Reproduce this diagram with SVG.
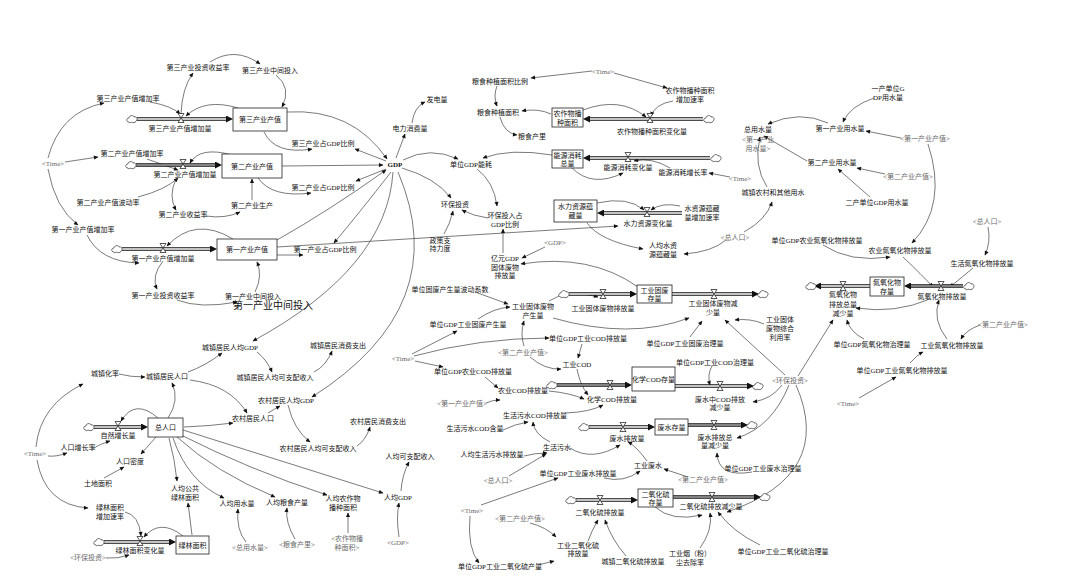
<svg xmlns="http://www.w3.org/2000/svg" xmlns:xlink="http://www.w3.org/1999/xlink" width="1068" height="579" viewBox="0 0 1068 579">
<style>
.t{font-family:"Liberation Serif","Noto Sans CJK SC",serif;font-size:7px;text-anchor:middle;fill:#111}
.g{fill:#6a6a6a}
.big{font-size:10px}
.c{fill:none;stroke:#222;stroke-width:0.6;marker-end:url(#a)}
.po{fill:none;stroke:#111;stroke-width:3.4;marker-end:url(#fa)}
.pi{fill:none;stroke:#fff;stroke-width:1.6}
.pg{fill:none;stroke:#aaa;stroke-width:1.6}
.s{fill:#fff;stroke:#222;stroke-width:0.8}
</style>
<defs>
<marker id="a" viewBox="0 0 10 10" refX="9" refY="5" markerWidth="5.5" markerHeight="4.5" markerUnits="userSpaceOnUse" orient="auto"><path d="M0,0.5 L10,5 L0,9.5 z" fill="#111"/></marker>
<marker id="fa" viewBox="0 0 10 10" refX="0" refY="5" markerWidth="7" markerHeight="7" markerUnits="userSpaceOnUse" orient="auto"><path d="M0,0 L10,5 L0,10 z" fill="#111"/></marker>
<path id="valve" d="M-3,-4.5 H3 L-3,4.5 H3 Z" fill="#fff" stroke="#111" stroke-width="0.7"/>
<path id="cloud" d="M-3,3 C-6,3 -6,-1 -3,-1 C-3,-4 2,-4 2,-2 C5,-3 6,1 4,2 C4,4 0,4 -1,3 C-2,4 -3,4 -3,3 Z" fill="#fff" stroke="#111" stroke-width="0.6"/>
</defs>
<rect width="1068" height="579" fill="#fff"/>

<g id="connectors">
<path class="c" d="M48,158 Q60,112 104,103"/>
<path class="c" d="M65,162 L98,157"/>
<path class="c" d="M48,169 Q55,208 78,225"/>
<path class="c" d="M150,102 Q172,106 180,114"/>
<path class="c" d="M181,114 Q182,88 193,73"/>
<path class="c" d="M210,62 Q235,46 260,64"/>
<path class="c" d="M276,75 Q292,88 282,107"/>
<path class="c" d="M238,108 Q205,98 186,116"/>
<path class="c" d="M264,132 Q275,155 312,149"/>
<path class="c" d="M147,159 L178,170"/>
<path class="c" d="M138,197 Q165,190 178,178"/>
<path class="c" d="M232,155 Q200,146 190,163"/>
<path class="c" d="M176,179 Q168,196 176,210"/>
<path class="c" d="M206,216 Q225,219 240,212"/>
<path class="c" d="M252,200 L252,179"/>
<path class="c" d="M258,178 Q272,198 311,193"/>
<path class="c" d="M87,235 Q100,262 139,263"/>
<path class="c" d="M233,239 Q195,216 167,246"/>
<path class="c" d="M163,261 Q151,276 157,289"/>
<path class="c" d="M177,300 Q200,309 237,302"/>
<path class="c" d="M255,292 Q263,276 257,262"/>
<path class="c" d="M277,255 L303,255"/>
<path class="c" d="M277,247 L618,226"/>
<path class="c" d="M287,112 Q352,108 387,159"/>
<path class="c" d="M282,166 L383,165"/>
<path class="c" d="M277,240 Q330,210 386,170"/>
<path class="c" d="M386,161 L355,149"/>
<path class="c" d="M386,169 L356,181"/>
<path class="c" d="M391,172 Q360,212 334,243"/>
<path class="c" d="M396,158 L405,134"/>
<path class="c" d="M412,123 Q414,107 425,102"/>
<path class="c" d="M403,160 Q430,146 458,159"/>
<path class="c" d="M552,155 Q510,148 483,158"/>
<path class="c" d="M477,169 Q494,182 497,206"/>
<path class="c" d="M488,218 Q473,216 462,210"/>
<path class="c" d="M402,168 Q436,178 451,198"/>
<path class="c" d="M444,234 Q450,224 453,211"/>
<path class="c" d="M545,247 L522,258"/>
<path class="c" d="M638,287 Q590,253 521,264"/>
<path class="c" d="M503,253 L503,229"/>
<path class="c" d="M393,172 Q387,268 253,341"/>
<path class="c" d="M398,172 Q455,306 312,397"/>
<path class="c" d="M119,374 Q130,377 145,377"/>
<path class="c" d="M36,447 Q40,405 83,384"/>
<path class="c" d="M48,456 Q56,457 67,453"/>
<path class="c" d="M92,449 Q100,444 110,441"/>
<path class="c" d="M37,460 Q45,505 88,508"/>
<path class="c" d="M168,418 Q180,400 172,383"/>
<path class="c" d="M188,372 Q205,366 222,353"/>
<path class="c" d="M190,380 Q230,385 247,413"/>
<path class="c" d="M184,427 Q210,426 233,423"/>
<path class="c" d="M268,413 Q273,410 280,406"/>
<path class="c" d="M257,352 Q267,360 272,372"/>
<path class="c" d="M314,372 Q326,366 332,351"/>
<path class="c" d="M288,405 Q294,430 310,442"/>
<path class="c" d="M357,446 Q366,440 370,427"/>
<path class="c" d="M158,418 Q135,398 121,421"/>
<path class="c" d="M156,437 L141,454"/>
<path class="c" d="M104,478 L124,467"/>
<path class="c" d="M169,438 Q175,460 177,481"/>
<path class="c" d="M173,438 Q188,482 224,498"/>
<path class="c" d="M177,437 Q215,472 275,497"/>
<path class="c" d="M181,435 Q250,470 327,495"/>
<path class="c" d="M183,430 L383,493"/>
<path class="c" d="M192,535 L188,503"/>
<path class="c" d="M246,542 Q236,530 238,509"/>
<path class="c" d="M295,539 Q285,522 287,508"/>
<path class="c" d="M348,533 L348,513"/>
<path class="c" d="M399,537 Q396,518 399,503"/>
<path class="c" d="M401,491 Q402,475 409,462"/>
<path class="c" d="M125,512 Q139,515 141,536"/>
<path class="c" d="M183,536 Q160,518 144,537"/>
<path class="c" d="M106,558 Q117,559 129,555"/>
<path class="c" d="M592,71 L531,78"/>
<path class="c" d="M614,73 L667,88"/>
<path class="c" d="M497,86 Q493,96 497,106"/>
<path class="c" d="M551,114 Q538,108 522,111"/>
<path class="c" d="M500,117 Q504,133 517,135"/>
<path class="c" d="M673,101 Q655,104 651,116"/>
<path class="c" d="M583,110 Q620,96 646,117"/>
<path class="c" d="M670,168 Q652,157 634,161"/>
<path class="c" d="M572,168 Q592,188 623,173"/>
<path class="c" d="M730,177 L709,173"/>
<path class="c" d="M597,203 Q628,196 644,210"/>
<path class="c" d="M680,206 Q662,202 651,210"/>
<path class="c" d="M587,223 Q600,241 643,249"/>
<path class="c" d="M726,240 Q712,252 684,254"/>
<path class="c" d="M744,232 Q766,220 772,202"/>
<path class="c" d="M874,98 Q850,106 843,122"/>
<path class="c" d="M901,138 L866,131"/>
<path class="c" d="M828,123 Q800,110 768,124"/>
<path class="c" d="M807,161 L764,136"/>
<path class="c" d="M767,187 Q753,165 760,137"/>
<path class="c" d="M885,174 L857,168"/>
<path class="c" d="M870,197 L838,169"/>
<path class="c" d="M928,144 Q948,205 912,243"/>
<path class="c" d="M988,227 Q991,242 985,255"/>
<path class="c" d="M823,245 Q850,263 890,257"/>
<path class="c" d="M903,257 Q922,275 933,287"/>
<path class="c" d="M973,268 L950,287"/>
<path class="c" d="M947,339 Q932,320 939,300"/>
<path class="c" d="M980,325 Q966,330 961,339"/>
<path class="c" d="M910,363 Q917,355 923,352"/>
<path class="c" d="M859,398 L896,377"/>
<path class="c" d="M930,299 Q895,314 856,308"/>
<path class="c" d="M864,339 Q850,332 847,320"/>
<path class="c" d="M798,376 L833,320"/>
<path class="c" d="M785,375 L725,320"/>
<path class="c" d="M764,324 Q750,318 735,320"/>
<path class="c" d="M475,292 L508,304"/>
<path class="c" d="M478,319 Q494,308 510,307"/>
<path class="c" d="M412,354 L457,331"/>
<path class="c" d="M414,356 Q480,338 549,338"/>
<path class="c" d="M415,361 L443,367"/>
<path class="c" d="M524,346 Q520,334 524,321"/>
<path class="c" d="M530,357 Q545,370 561,369"/>
<path class="c" d="M553,318 Q630,340 689,318"/>
<path class="c" d="M549,301 Q568,288 598,297"/>
<path class="c" d="M690,337 L702,321"/>
<path class="c" d="M582,344 L578,358"/>
<path class="c" d="M577,369 Q580,385 588,395"/>
<path class="c" d="M485,377 L498,388"/>
<path class="c" d="M549,391 Q570,393 584,399"/>
<path class="c" d="M486,403 Q492,400 500,400"/>
<path class="c" d="M566,413 Q590,412 603,405"/>
<path class="c" d="M503,430 Q515,424 528,422"/>
<path class="c" d="M550,442 Q534,434 533,422"/>
<path class="c" d="M524,456 Q535,453 547,453"/>
<path class="c" d="M509,476 L546,454"/>
<path class="c" d="M570,448 Q592,462 620,445"/>
<path class="c" d="M647,461 Q636,446 628,442"/>
<path class="c" d="M688,477 L664,469"/>
<path class="c" d="M604,478 Q624,483 640,471"/>
<path class="c" d="M481,505 L558,478"/>
<path class="c" d="M470,516 Q467,548 479,563"/>
<path class="c" d="M538,565 L554,561"/>
<path class="c" d="M530,523 Q546,527 556,537"/>
<path class="c" d="M588,541 Q592,530 598,520"/>
<path class="c" d="M626,556 Q612,540 605,520"/>
<path class="c" d="M712,366 Q707,375 710,385"/>
<path class="c" d="M782,385 Q772,399 753,402"/>
<path class="c" d="M789,385 Q772,427 737,438"/>
<path class="c" d="M796,385 Q835,475 727,512"/>
<path class="c" d="M752,472 Q718,478 717,453"/>
<path class="c" d="M655,507 Q672,522 702,515"/>
<path class="c" d="M700,548 Q713,530 710,513"/>
<path class="c" d="M760,545 Q733,532 718,512"/>
</g>

<g id="flows">
<path class="po" d="M137,119 H226"/><path class="pi" d="M137,119 H226"/>
<path class="po" d="M136,165 H215"/><path class="pg" d="M136,165 H215"/>
<path class="po" d="M122,249 H210"/><path class="pi" d="M122,249 H210"/>
<path class="po" d="M94,427 H141"/><path class="pi" d="M94,427 H141"/>
<path class="po" d="M104,542 H169"/><path class="pi" d="M104,542 H169"/>
<path class="po" d="M703,119 H590"/><path class="pi" d="M703,119 H590"/>
<path class="po" d="M710,158 H590"/><path class="pi" d="M710,158 H590"/>
<path class="po" d="M682,213 H604"/><path class="pi" d="M682,213 H604"/>
<path class="po" d="M569,294 H630"/><path class="pi" d="M569,294 H630"/>
<path class="po" d="M672,294 H752"/><path class="pi" d="M672,294 H752"/>
<path class="po" d="M963,286 H911"/><path class="pg" d="M963,286 H911"/>
<path class="po" d="M870,286 H821"/><path class="pi" d="M870,286 H821"/>
<path class="po" d="M557,385 H625"/><path class="pg" d="M557,385 H625"/>
<path class="po" d="M675,386 H747"/><path class="pi" d="M675,386 H747"/>
<path class="po" d="M589,427 H648"/><path class="pi" d="M589,427 H648"/>
<path class="po" d="M688,425 H741"/><path class="pg" d="M688,425 H741"/>
<path class="po" d="M576,500 H631"/><path class="pi" d="M576,500 H631"/>
<path class="po" d="M673,497 H754"/><path class="pg" d="M673,497 H754"/>
<use href="#cloud" x="132" y="119"/><use href="#cloud" x="131" y="165"/><use href="#cloud" x="117" y="249"/>
<use href="#cloud" x="89" y="427"/><use href="#cloud" x="99" y="542"/><use href="#cloud" x="709" y="119"/>
<use href="#cloud" x="716" y="158"/><use href="#cloud" x="564" y="294"/><use href="#cloud" x="763" y="294"/>
<use href="#cloud" x="969" y="286"/><use href="#cloud" x="811" y="286"/><use href="#cloud" x="552" y="385"/>
<use href="#cloud" x="758" y="386"/><use href="#cloud" x="584" y="427"/><use href="#cloud" x="752" y="425"/>
<use href="#cloud" x="571" y="500"/><use href="#cloud" x="765" y="497"/>
<use href="#valve" x="181" y="118"/><use href="#valve" x="183" y="164"/><use href="#valve" x="163" y="248"/>
<use href="#valve" x="118" y="426"/><use href="#valve" x="140" y="541"/><use href="#valve" x="650" y="118"/>
<use href="#valve" x="628" y="157"/><use href="#valve" x="647" y="212"/><use href="#valve" x="603" y="294"/>
<use href="#valve" x="714" y="294"/><use href="#valve" x="941" y="286"/><use href="#valve" x="843" y="286"/>
<use href="#valve" x="610" y="385"/><use href="#valve" x="720" y="386"/><use href="#valve" x="623" y="427"/>
<use href="#valve" x="714" y="425"/><use href="#valve" x="600" y="500"/><use href="#valve" x="712" y="497"/>
</g>

<g id="stock-tertiary"><rect class="s" x="233" y="108" width="54" height="23"/><text class="t" x="260" y="122">第三产业产值</text></g>
<g id="stock-secondary"><rect class="s" x="222" y="154" width="60" height="24"/><text class="t" x="252" y="168.5">第二产业产值</text></g>
<g id="stock-primary"><rect class="s" x="217" y="239" width="60" height="21"/><text class="t" x="247" y="252">第一产业产值</text></g>
<g id="stock-crop"><rect class="s" x="552" y="108" width="31" height="19"/><text class="t" x="567.5" y="116">农作物播</text><text class="t" x="567.5" y="124.5">种面积</text></g>
<g id="stock-energy"><rect class="s" x="552" y="150" width="31" height="18"/><text class="t" x="567.5" y="157.5">能源消耗</text><text class="t" x="567.5" y="166">总量</text></g>
<g id="stock-water"><rect class="s" x="554" y="200" width="43" height="22"/><text class="t" x="575.5" y="209">水力资源蕴</text><text class="t" x="575.5" y="218">藏量</text></g>
<g id="stock-solid"><rect class="s" x="637" y="285" width="35" height="18"/><text class="t" x="654.5" y="292.5">工业固废</text><text class="t" x="654.5" y="301">存量</text></g>
<g id="stock-nox"><rect class="s" x="870" y="277" width="34" height="19"/><text class="t" x="887" y="285">氮氧化物</text><text class="t" x="887" y="293.5">存量</text></g>
<g id="stock-cod"><rect class="s" x="632" y="367" width="43" height="24"/><text class="t" x="653.5" y="381.5">化学COD存量</text></g>
<g id="stock-wastewater"><rect class="s" x="655" y="419" width="33" height="16"/><text class="t" x="671.5" y="429.5">废水存量</text></g>
<g id="stock-so2"><rect class="s" x="638" y="489" width="35" height="18"/><text class="t" x="655.5" y="496.5">二氧化硫</text><text class="t" x="655.5" y="505">存量</text></g>
<g id="stock-pop"><rect class="s" x="148" y="418" width="35" height="19"/><text class="t" x="165.5" y="430">总人口</text></g>
<g id="stock-green"><rect class="s" x="176" y="536" width="33" height="18"/><text class="t" x="192.5" y="547.5">绿林面积</text></g>

<g id="n001"><text class="t" x="198" y="69.5">第三产业投资收益率</text></g>
<g id="n002"><text class="t" x="270" y="72.5">第三产业中间投入</text></g>
<g id="n003"><text class="t" x="128" y="100.5">第三产业产值增加率</text></g>
<g id="n004"><text class="t" x="180" y="130.5">第三产业产值增加量</text></g>
<g id="n005"><text class="t g" x="53" y="165.5">&lt;Time&gt;</text></g>
<g id="n006"><text class="t" x="132" y="155.5">第二产业产值增加率</text></g>
<g id="n007"><text class="t" x="185" y="176.5">第二产业产值增加量</text></g>
<g id="n008"><text class="t" x="323" y="145.5">第三产业占GDP比例</text></g>
<g id="n009"><text class="t" x="323" y="189.5">第二产业占GDP比例</text></g>
<g id="n010"><text class="t" x="108" y="204.5">第二产业产值波动率</text></g>
<g id="n011"><text class="t" x="252" y="207.5">第二产业生产</text></g>
<g id="n012"><text class="t" x="183" y="216.5">第二产业收益率</text></g>
<g id="n013"><text class="t" x="83" y="231.5">第一产业产值增加率</text></g>
<g id="n014"><text class="t" x="163" y="260.5">第一产业产值增加量</text></g>
<g id="n015"><text class="t" x="325" y="251.5">第一产业占GDP比例</text></g>
<g id="n016"><text class="t" x="163" y="297.5">第一产业投资收益率</text></g>
<g id="n017"><text class="t" x="253" y="298.5">第一产业中间投入</text></g>
<g id="n018"><text class="t big" x="273" y="309">第一产业中间投入</text></g>
<g id="n019"><text class="t" x="395" y="166.5" font-weight="bold">GDP</text></g>
<g id="n020"><text class="t" x="410" y="130.5">电力消费量</text></g>
<g id="n021"><text class="t" x="437" y="101.5">发电量</text></g>
<g id="n022"><text class="t" x="471" y="166.5">单位GDP能耗</text></g>
<g id="n023"><text class="t" x="455" y="206.5">环保投资</text></g>
<g id="n024"><text class="t" x="505" y="217.5">环保投入占</text><text class="t" x="505" y="226.5">GDP比例</text></g>
<g id="n025"><text class="t" x="440" y="242.5">政策支</text><text class="t" x="440" y="250.5">持力度</text></g>
<g id="n026"><text class="t g" x="555" y="244.5">&lt;GDP&gt;</text></g>
<g id="n027"><text class="t" x="505" y="260.5">亿元GDP</text><text class="t" x="505" y="269.5">固体废物</text><text class="t" x="505" y="278">排放量</text></g>
<g id="n028"><text class="t g" x="603" y="73.5">&lt;Time&gt;</text></g>
<g id="n029"><text class="t" x="500" y="83.5">粮食种植面积比例</text></g>
<g id="n030"><text class="t" x="690" y="92.5">农作物播种面积</text><text class="t" x="690" y="101.5">增加速率</text></g>
<g id="n031"><text class="t" x="498" y="114.5">粮食种植面积</text></g>
<g id="n032"><text class="t" x="652" y="133.5">农作物播种面积变化量</text></g>
<g id="n033"><text class="t" x="532" y="138.5">粮食产里</text></g>
<g id="n034"><text class="t" x="628" y="169.5">能源消耗变化量</text></g>
<g id="n035"><text class="t" x="683" y="174.5">能源消耗增长率</text></g>
<g id="n036"><text class="t g" x="740" y="180.5">&lt;Time&gt;</text></g>
<g id="n037"><text class="t" x="648" y="225.5">水力资源变化量</text></g>
<g id="n038"><text class="t" x="702" y="210.5">水资源蕴藏</text><text class="t" x="702" y="219.5">量增加速率</text></g>
<g id="n039"><text class="t" x="663" y="247.5">人均水资</text><text class="t" x="663" y="256.5">源蕴藏量</text></g>
<g id="n040"><text class="t g" x="735" y="239.5">&lt;总人口&gt;</text></g>
<g id="n041"><text class="t" x="888" y="90.5">一产单位G</text><text class="t" x="888" y="99.5">DP用水量</text></g>
<g id="n042"><text class="t" x="758" y="131.5">总用水量</text></g>
<g id="n043"><text class="t g" x="758" y="141.5">&lt;第一产业</text><text class="t g" x="758" y="150.5">用水量&gt;</text></g>
<g id="n044"><text class="t" x="840" y="130.5">第一产业用水量</text></g>
<g id="n045"><text class="t g" x="925" y="140.5">&lt;第一产业产值&gt;</text></g>
<g id="n046"><text class="t" x="832" y="164.5">第二产业用水量</text></g>
<g id="n047"><text class="t g" x="908" y="178.5">&lt;第二产业产值&gt;</text></g>
<g id="n048"><text class="t" x="773" y="194.5">城镇农村和其他用水</text></g>
<g id="n049"><text class="t" x="877" y="204.5">二产单位GDP用水量</text></g>
<g id="n050"><text class="t g" x="987" y="223.5">&lt;总人口&gt;</text></g>
<g id="n051"><text class="t" x="817" y="242.5">单位GDP农业氮氧化物排放量</text></g>
<g id="n052"><text class="t" x="900" y="252.5">农业氮氧化物排放量</text></g>
<g id="n053"><text class="t" x="982" y="265.5">生活氮氧化物排放量</text></g>
<g id="n054"><text class="t" x="942" y="298.5">氮氧化物排放量</text></g>
<g id="n055"><text class="t" x="843" y="296.5">氮氧化物</text><text class="t" x="843" y="306.5">排放总量</text><text class="t" x="843" y="315.5">减少量</text></g>
<g id="n056"><text class="t g" x="1003" y="326.5">&lt;第二产业产值&gt;</text></g>
<g id="n057"><text class="t" x="872" y="346.5">单位GDP氮氧化物治理量</text></g>
<g id="n058"><text class="t" x="952" y="347.5">工业氮氧化物排放量</text></g>
<g id="n059"><text class="t" x="902" y="372.5">单位GDP工业氮氧化物排放量</text></g>
<g id="n060"><text class="t g" x="848" y="405.5">&lt;Time&gt;</text></g>
<g id="n061"><text class="t" x="450" y="291.5">单位固废产生量波动系数</text></g>
<g id="n062"><text class="t" x="603" y="310.5">工业固体废物排放量</text></g>
<g id="n063"><text class="t" x="713" y="305.5">工业固体废物减</text><text class="t" x="713" y="314.5">少量</text></g>
<g id="n064"><text class="t" x="533" y="308.5">工业固体废物</text><text class="t" x="533" y="317.5">产生量</text></g>
<g id="n065"><text class="t" x="468" y="326.5">单位GDP工业固废产生量</text></g>
<g id="n066"><text class="t" x="780" y="321.5">工业固体</text><text class="t" x="780" y="330.5">废物综合</text><text class="t" x="780" y="339.5">利用率</text></g>
<g id="n067"><text class="t" x="685" y="345.5">单位GDP工业固废治理量</text></g>
<g id="n068"><text class="t g" x="403" y="360.5">&lt;Time&gt;</text></g>
<g id="n069"><text class="t" x="588" y="340.5">单位GDP工业COD排放量</text></g>
<g id="n070"><text class="t g" x="523" y="354.5">&lt;第二产业产值&gt;</text></g>
<g id="n071"><text class="t" x="577" y="366.5">工业COD</text></g>
<g id="n072"><text class="t" x="473" y="373.5">单位GDP农业COD排放量</text></g>
<g id="n073"><text class="t" x="715" y="364.5">单位GDP工业COD治理量</text></g>
<g id="n074"><text class="t g" x="790" y="382.5">&lt;环保投资&gt;</text></g>
<g id="n075"><text class="t" x="612" y="401.5">化学COD排放量</text></g>
<g id="n076"><text class="t" x="720" y="401.5">废水中COD排放</text><text class="t" x="720" y="410">减少量</text></g>
<g id="n077"><text class="t" x="523" y="392.5">农业COD排放量</text></g>
<g id="n078"><text class="t g" x="462" y="405.5">&lt;第一产业产值&gt;</text></g>
<g id="n079"><text class="t" x="535" y="417.5">生活污水COD排放量</text></g>
<g id="n080"><text class="t" x="475" y="430.5">生活污水COD含量</text></g>
<g id="n081"><text class="t" x="627" y="440.5">废水排放量</text></g>
<g id="n082"><text class="t" x="715" y="439.5">废水排放总</text><text class="t" x="715" y="448">量减少量</text></g>
<g id="n083"><text class="t" x="557" y="449.5">生活污水</text></g>
<g id="n084"><text class="t" x="492" y="456.5">人均生活污水排放量</text></g>
<g id="n085"><text class="t" x="648" y="467.5">工业废水</text></g>
<g id="n086"><text class="t" x="578" y="475.5">单位GDP工业废水排放量</text></g>
<g id="n087"><text class="t" x="763" y="470.5">单位GDP工业废水治理量</text></g>
<g id="n088"><text class="t g" x="498" y="482.5">&lt;总人口&gt;</text></g>
<g id="n089"><text class="t g" x="703" y="481.5">&lt;第二产业产值&gt;</text></g>
<g id="n090"><text class="t" x="600" y="514.5">二氧化硫排放量</text></g>
<g id="n091"><text class="t" x="711" y="508.5">二氧化硫排放减少量</text></g>
<g id="n092"><text class="t g" x="472" y="512.5">&lt;Time&gt;</text></g>
<g id="n093"><text class="t g" x="520" y="520.5">&lt;第二产业产值&gt;</text></g>
<g id="n094"><text class="t" x="578" y="547.5">工业二氧化硫</text><text class="t" x="578" y="556">排放量</text></g>
<g id="n095"><text class="t" x="633" y="563.5">城镇二氧化硫排放量</text></g>
<g id="n096"><text class="t" x="690" y="555.5">工业烟（粉）</text><text class="t" x="690" y="564.5">尘去除率</text></g>
<g id="n097"><text class="t" x="783" y="553.5">单位GDP工业二氧化硫治理量</text></g>
<g id="n098"><text class="t" x="500" y="568.5">单位GDP工业二氧化硫产量</text></g>
<g id="n099"><text class="t" x="230" y="349.5">城镇居民人均GDP</text></g>
<g id="n100"><text class="t" x="338" y="347.5">城镇居民消费支出</text></g>
<g id="n101"><text class="t" x="105" y="375.5">城镇化率</text></g>
<g id="n102"><text class="t" x="167" y="378.5">城镇居民人口</text></g>
<g id="n103"><text class="t" x="275" y="379.5">城镇居民人均可支配收入</text></g>
<g id="n104"><text class="t" x="286" y="402.5">农村居民人均GDP</text></g>
<g id="n105"><text class="t" x="253" y="420.5">农村居民人口</text></g>
<g id="n106"><text class="t" x="378" y="423.5">农村居民消费支出</text></g>
<g id="n107"><text class="t" x="318" y="450.5">农村居民人均可支配收入</text></g>
<g id="n108"><text class="t" x="410" y="458.5">人均可支配收入</text></g>
<g id="n109"><text class="t" x="118" y="437.5">自然增长量</text></g>
<g id="n110"><text class="t" x="78" y="449.5">人口增长率</text></g>
<g id="n111"><text class="t g" x="35" y="455.5">&lt;Time&gt;</text></g>
<g id="n112"><text class="t" x="130" y="463.5">人口密度</text></g>
<g id="n113"><text class="t" x="98" y="485.5">土地面积</text></g>
<g id="n114"><text class="t" x="185" y="490.5">人均公共</text><text class="t" x="185" y="499.5">绿林面积</text></g>
<g id="n115"><text class="t" x="237" y="505.5">人均用水量</text></g>
<g id="n116"><text class="t" x="287" y="504.5">人均粮食产量</text></g>
<g id="n117"><text class="t" x="343" y="500.5">人均农作物</text><text class="t" x="343" y="509.5">播种面积</text></g>
<g id="n118"><text class="t" x="398" y="499.5">人均GDP</text></g>
<g id="n119"><text class="t" x="110" y="509.5">绿林面积</text><text class="t" x="110" y="518.5">增加速率</text></g>
<g id="n120"><text class="t" x="140" y="552.5">绿林面积变化量</text></g>
<g id="n121"><text class="t g" x="88" y="559.5">&lt;环保投资&gt;</text></g>
<g id="n122"><text class="t g" x="250" y="549.5">&lt;总用水量&gt;</text></g>
<g id="n123"><text class="t g" x="297" y="546.5">&lt;粮食产里&gt;</text></g>
<g id="n124"><text class="t g" x="347" y="540.5">&lt;农作物播</text><text class="t g" x="347" y="549.5">种面积&gt;</text></g>
<g id="n125"><text class="t g" x="398" y="544.5">&lt;GDP&gt;</text></g>
</svg>
